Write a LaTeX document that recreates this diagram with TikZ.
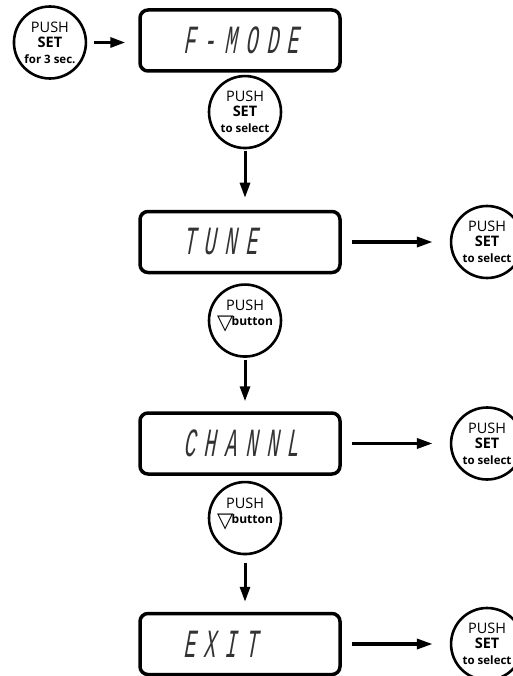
\documentclass[tikz,border=0pt]{standalone}
\usepackage{fontspec}
\setmainfont{Open Sans}
\newfontfamily\lcdfont[FakeSlant=0.18,FakeStretch=0.5,LetterSpace=22]{Liberation Mono}
\newfontfamily\symfont{DejaVu Sans}
\usetikzlibrary{arrows.meta,positioning}

\newcommand{\pushtxt}{PUSH}
\newcommand{\settxt}{\textbf{SET}}
\newcommand{\smalltxt}[1]{{\bfseries\fontsize{11.5}{12}\selectfont #1}}
\newcommand{\downbtn}{{\symfont\fontsize{21}{15}\selectfont\raisebox{-4pt}{▽}}\kern-1.5pt{\bfseries\fontsize{12}{12}\selectfont button}}

\begin{document}
\begin{tikzpicture}[x=1pt,y=1pt,
  lcd/.style={draw,line width=3.5pt,rounded corners=8pt,minimum width=200pt,minimum height=61pt,
    text width=114pt,align=left,text=black!80,font=\lcdfont\fontsize{40}{40}\selectfont},
  push/.style={draw,circle,line width=2.6pt,minimum size=72pt,inner sep=0pt,align=center,
    font=\fontsize{14.5}{15}\selectfont},
  go/.style={-{Triangle[length=15pt,width=10pt]},line width=3pt},
  goside/.style={-{Triangle[length=16pt,width=10pt]},line width=3.5pt}]

\path[use as bounding box,fill=white] (0,0) rectangle (513,-676);

\node(fmode)[lcd] at (240,-40.5){F-MODE};

\node(start)[push,left=51pt of fmode,yshift=-2pt]{\pushtxt\\\settxt\\[1pt]\smalltxt{for 3 sec.}};

\node(sel1)[push,below=2pt of fmode,xshift=5pt]{\pushtxt\\\settxt\\[1pt]\smalltxt{to select}};

\node(tune)[lcd,below=137pt of fmode]{TUNE};

\node(setr1)[push,right=108pt of tune]{\pushtxt\\\settxt\\[1pt]\smalltxt{to select}};

\node(down1)[push,below=9pt of tune,xshift=5pt]{\pushtxt\\\downbtn\\\mbox{}};

\node(chan)[lcd,below=137pt of tune]{CHANNL};

\node(setr2)[push,right=108pt of chan]{\pushtxt\\\settxt\\[1pt]\smalltxt{to select}};

\node(down2)[push,below=5pt of chan,xshift=5pt]{\pushtxt\\\downbtn\\\mbox{}};

\node(exit)[lcd,below=136pt of chan]{EXIT};

\node(setr3)[push,right=108pt of exit]{\pushtxt\\\settxt\\[1pt]\smalltxt{to select}};

\draw [go,shorten <=7pt,shorten >=13pt] (start.east) -- (start.east -| fmode.west);

\draw [go,shorten <=2pt,shorten >=12pt] (sel1.south) -- (sel1.south |- tune.north);

\draw [go,shorten <=2pt,shorten >=10pt] (down1.south) -- (down1.south |- chan.north);

\draw [go,shorten <=8pt,shorten >=10pt] (down2.south) -- (down2.south |- exit.north);

\draw [goside,shorten <=10pt,shorten >=17pt] (tune.east) -- (tune.east -| setr1.west);

\draw [goside,shorten <=10pt,shorten >=17pt] (chan.east) -- (chan.east -| setr2.west);

\draw [goside,shorten <=10pt,shorten >=17pt] (exit.east) -- (exit.east -| setr3.west);

\end{tikzpicture}
\end{document}
